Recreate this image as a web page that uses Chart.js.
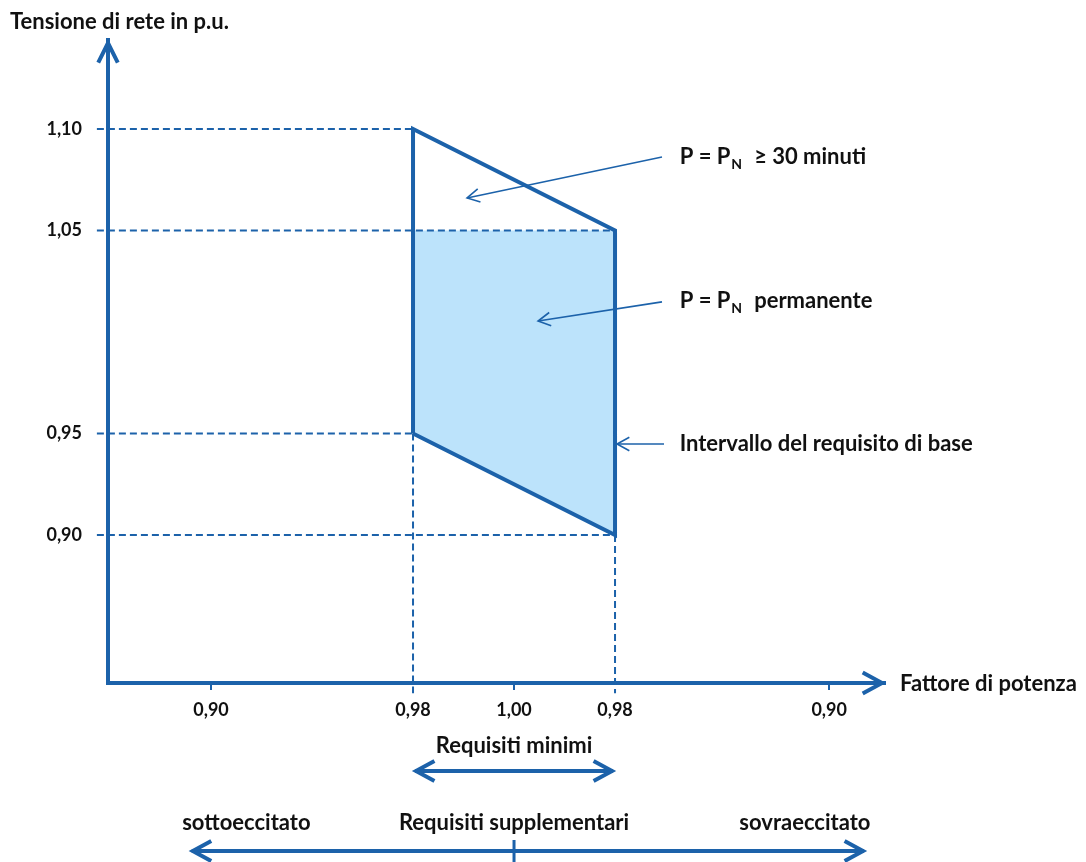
<!DOCTYPE html>
<html>
<head>
<meta charset="utf-8">
<script src="https://cdn.jsdelivr.net/npm/chart.js@4"></script>
<style>
  html, body { margin: 0; padding: 0; background: #fff; }
  #wrap { width: 1086px; height: 862px; position: relative; }
</style>
</head>
<body>
<div id="wrap"><canvas id="chart"></canvas></div>
<script>
const BLUE = '#1c62aa';
const FILL = '#bce3fb';
const TXT = '#111111';
const FONT = 'Lato, "Open Sans", sans-serif';

// tick values / labels
const yTickVals = [0.90, 0.95, 1.05, 1.10];
const yTickLabels = ['0,90', '0,95', '1,05', '1,10'];
// power factor axis: position on the axis and the printed label
const xTickPos = [-3, -1, 0, 1, 3.12];
const xTickLabels = ['0,90', '0,98', '1,00', '0,98', '0,90'];

// basic requirement region (0,98 under-excited .. 0,98 over-excited)
const limitX = [-1, 1];
const shortTermTop = [1.10, 1.05];     // P = PN >= 30 minuti
const permanentTop = [1.05, 1.05];     // P = PN permanente
const permanentBottom = [0.95, 0.90];

// dashed reference lines
const hGuideLevels = [1.10, 1.05, 0.95, 0.90];
const hGuideEnds = [-1, 1, -1, 1];
const vGuidePos = [-1, 1];
const vGuideTops = [0.95, 0.90];

// annotation arrows (from label to target)
const noteFrom = [[1.465, 1.0862], [1.465, 1.0148], [1.485, 0.9448]];
const noteTo = [[-0.465, 1.066], [0.238, 1.0054], [1.02, 0.9448]];
const noteMain = ['P = P', 'P = P', 'Intervallo del requisito di base'];
const noteSub = ['N', 'N', ''];
const noteTail = ['\u2265 30 minuti', 'permanente', ''];
const noteX = 1.64;
const noteY = [1.0865, 1.0158, 0.9455];

// bottom arrows
const minReqSpan = [-1, 1];
const suppSpan = [-3.21, 3.485];
const bottomLabels = ['sottoeccitato', 'Requisiti supplementari', 'sovraeccitato'];
const bottomLabelX = [-2.65, 0, 2.88];

const X_MIN = -4.02, X_MAX = 3.673, Y_MIN = 0.8271, Y_MAX = 1.1438;
const GUIDE_LEFT = -4.13, GUIDE_BOTTOM = 0.822;

const pts = (xs, ys) => xs.map((x, i) => ({ x, y: ys[i] }));
const line = (data, extra) => Object.assign({
  data, pointRadius: 0, borderColor: BLUE, borderWidth: 2,
  fill: false, tension: 0, clip: false
}, extra);

const datasets = [];
// outline of the whole region
datasets.push(line([
  { x: limitX[0], y: permanentBottom[0] },
  { x: limitX[0], y: shortTermTop[0] },
  { x: limitX[1], y: shortTermTop[1] },
  { x: limitX[1], y: permanentBottom[1] },
  { x: limitX[0], y: permanentBottom[0] }
], { borderWidth: 4, borderJoinStyle: 'miter', order: 0 }));
// annotation lines
noteFrom.forEach((f, i) => {
  datasets.push(line([{ x: f[0], y: f[1] }, { x: noteTo[i][0], y: noteTo[i][1] }],
    { borderWidth: 1.6, order: 1 }));
});
// dashed guides
hGuideLevels.forEach((v, i) => {
  datasets.push(line([{ x: GUIDE_LEFT, y: v }, { x: hGuideEnds[i], y: v }],
    { borderDash: [7, 4], order: 2 }));
});
vGuidePos.forEach((p, i) => {
  datasets.push(line([{ x: p, y: vGuideTops[i] }, { x: p, y: GUIDE_BOTTOM }],
    { borderDash: [7, 4], order: 2 }));
});
// permanent area fill (between top and bottom edges)
datasets.push(line(pts(limitX, permanentTop),
  { borderWidth: 0, fill: '+1', backgroundColor: FILL, order: 5 }));
datasets.push(line(pts(limitX, permanentBottom),
  { borderWidth: 0, order: 6 }));

function chevron(ctx, tx, ty, ang, len, w, spread) {
  ctx.beginPath();
  ctx.lineWidth = w;
  ctx.strokeStyle = BLUE;
  ctx.lineJoin = 'miter';
  ctx.lineCap = 'butt';
  ctx.moveTo(tx - len * Math.cos(ang - spread), ty - len * Math.sin(ang - spread));
  ctx.lineTo(tx, ty);
  ctx.lineTo(tx - len * Math.cos(ang + spread), ty - len * Math.sin(ang + spread));
  ctx.stroke();
}

function doubleArrow(ctx, x1, x2, yy) {
  ctx.beginPath();
  ctx.lineWidth = 4;
  ctx.strokeStyle = BLUE;
  ctx.moveTo(x1 + 2, yy);
  ctx.lineTo(x2 - 2, yy);
  ctx.stroke();
  chevron(ctx, x1 + 3, yy, Math.PI, 21, 4, 0.5);
  chevron(ctx, x2 - 3, yy, 0, 21, 4, 0.5);
}

const diagram = {
  id: 'diagram',
  afterDraw(chart) {
    const { ctx, scales: { x, y }, chartArea: a } = chart;
    ctx.save();
    // axis arrowheads
    chevron(ctx, a.left, a.top + 3, -Math.PI / 2, 22, 4, 0.46);
    chevron(ctx, a.right - 3, a.bottom, 0, 22, 4, 0.5);

    // annotation arrowheads
    noteFrom.forEach((f, i) => {
      const fx = x.getPixelForValue(f[0]), fy = y.getPixelForValue(f[1]);
      const tx = x.getPixelForValue(noteTo[i][0]), ty = y.getPixelForValue(noteTo[i][1]);
      chevron(ctx, tx, ty, Math.atan2(ty - fy, tx - fx), 14, 1.6, 0.5);
    });

    ctx.fillStyle = TXT;
    ctx.textBaseline = 'alphabetic';
    ctx.textAlign = 'left';
    ctx.font = `bold 22px ${FONT}`;
    ctx.fillText('Tensione di rete in p.u.', 10, 29);
    ctx.fillText('Fattore di potenza', a.right + 15, a.bottom + 8);

    // notes
    noteMain.forEach((t, i) => {
      let px = x.getPixelForValue(noteX);
      const py = y.getPixelForValue(noteY[i]) + 8;
      ctx.font = `bold 22px ${FONT}`;
      ctx.fillText(t, px, py);
      px += ctx.measureText(t).width + 1;
      if (noteSub[i]) {
        ctx.font = `bold 14px ${FONT}`;
        ctx.fillText(noteSub[i], px, py + 5);
        px += ctx.measureText(noteSub[i]).width + 12;
        ctx.font = `bold 22px ${FONT}`;
        ctx.fillText(noteTail[i], px, py);
      }
    });

    // bottom: minimum requirements
    ctx.textAlign = 'center';
    ctx.font = `bold 22px ${FONT}`;
    const m1 = x.getPixelForValue(minReqSpan[0]), m2 = x.getPixelForValue(minReqSpan[1]);
    ctx.fillText('Requisiti minimi', (m1 + m2) / 2, 753);
    doubleArrow(ctx, m1, m2, 771);

    // bottom: supplementary requirements
    bottomLabels.forEach((t, i) => ctx.fillText(t, x.getPixelForValue(bottomLabelX[i]), 830));
    const s1 = x.getPixelForValue(suppSpan[0]), s2 = x.getPixelForValue(suppSpan[1]);
    doubleArrow(ctx, s1, s2, 851);
    const mid = x.getPixelForValue(0);
    ctx.beginPath();
    ctx.lineWidth = 3;
    ctx.moveTo(mid, 840);
    ctx.lineTo(mid, 862);
    ctx.stroke();
    ctx.restore();
  }
};

new Chart(document.getElementById('chart'), {
  type: 'line',
  data: { datasets },
  options: {
    responsive: true,
    maintainAspectRatio: false,
    animation: false,
    layout: { padding: { top: 40, right: 201, left: 0, bottom: 0 } },
    plugins: { legend: { display: false }, tooltip: { enabled: false } },
    scales: {
      x: {
        type: 'linear', min: X_MIN, max: X_MAX,
        afterBuildTicks: s => { s.ticks = xTickPos.map(v => ({ value: v })); },
        afterFit: s => { s.height = 179; },
        ticks: {
          autoSkip: false, maxRotation: 0, padding: 9, color: TXT,
          font: { family: FONT, size: 18, weight: 'bold' },
          callback: (v, i) => xTickLabels[i]
        },
        grid: {
          display: true, drawOnChartArea: false, drawTicks: true, tickLength: 7, lineWidth: 2,
          color: c => (c.tick && Math.abs(c.tick.value) === 1) ? 'rgba(0,0,0,0)' : BLUE
        },
        border: { display: true, color: BLUE, width: 4 }
      },
      y: {
        type: 'linear', min: Y_MIN, max: Y_MAX,
        afterBuildTicks: s => { s.ticks = yTickVals.map(v => ({ value: v })); },
        afterFit: s => { s.width = 108; },
        ticks: {
          autoSkip: false, padding: 26, color: TXT,
          font: { family: FONT, size: 18, weight: 'bold' },
          callback: (v, i) => yTickLabels[i]
        },
        grid: { display: false, drawTicks: false },
        border: { display: true, color: BLUE, width: 4 }
      }
    }
  },
  plugins: [diagram]
});
</script>
</body>
</html>
